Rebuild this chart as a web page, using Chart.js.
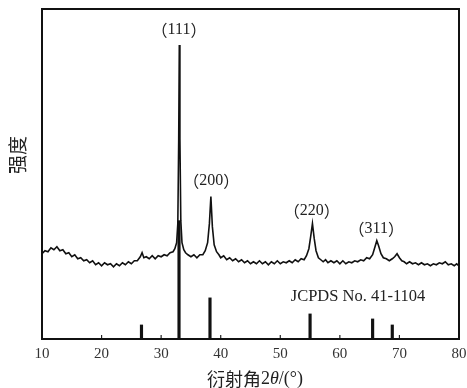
<!DOCTYPE html>
<html>
<head>
<meta charset="utf-8">
<script src="https://cdn.jsdelivr.net/npm/chart.js@4.4.1/dist/chart.umd.min.js"></script>
<style>
  html, body { margin: 0; padding: 0; background: #fff; }
  #box { width: 467px; height: 388px; }
</style>
</head>
<body>
<div id="box"><canvas id="graficoXRD"></canvas></div>
<script>
// Dados (intensidade em unidades arbitrárias)
const doisTheta = [
  10.0, 10.5, 11.0, 11.5, 12.0, 12.5, 13.0, 13.5, 14.0, 14.5, 15.0, 15.5, 16.0, 16.5, 17.0, 17.5,
  18.0, 18.5, 19.0, 19.5, 20.0, 20.5, 21.0, 21.5, 22.0, 22.5, 23.0, 23.5, 24.0, 24.5, 25.0, 25.5,
  26.0, 26.5, 26.8, 27.1, 27.5, 28.0, 28.5, 29.0, 29.5, 30.0, 30.5, 31.0, 31.5, 32.0, 32.3, 32.6,
  32.8, 32.95, 33.05, 33.15, 33.3, 33.5, 33.8, 34.1, 34.5, 35.0, 35.5, 36.0, 36.5, 37.0, 37.4, 37.8,
  38.1, 38.35, 38.6, 38.9, 39.3, 39.7, 40.0, 40.5, 41.0, 41.5, 42.0, 42.5, 43.0, 43.5, 44.0, 44.5,
  45.0, 45.5, 46.0, 46.5, 47.0, 47.5, 48.0, 48.5, 49.0, 49.5, 50.0, 50.5, 51.0, 51.5, 52.0, 52.5,
  53.0, 53.5, 54.0, 54.4, 54.8, 55.1, 55.4, 55.7, 56.0, 56.4, 56.8, 57.2, 57.6, 58.0, 58.5, 59.0,
  59.5, 60.0, 60.5, 61.0, 61.5, 62.0, 62.5, 63.0, 63.5, 64.0, 64.5, 65.0, 65.5, 65.9, 66.2, 66.5,
  66.9, 67.3, 67.8, 68.3, 68.8, 69.2, 69.6, 70.0, 70.4, 70.8, 71.2, 71.7, 72.2, 72.7, 73.2, 73.7,
  74.2, 74.7, 75.2, 75.7, 76.2, 76.7, 77.2, 77.7, 78.2, 78.7, 79.2, 79.6, 80.0
];
const intensidade = [
  85, 88, 87, 91, 89, 92, 88, 89, 85, 86, 82, 84, 80, 81, 78, 79,
  76, 78, 74, 76, 73, 76, 74, 75, 72, 75, 73, 76, 74, 77, 75, 78,
  78, 82, 86, 81, 82, 80, 83, 80, 83, 82, 84, 83, 86, 87, 90, 96,
  115, 200, 293, 200, 118, 96, 89, 86, 84, 82, 84, 81, 84, 84, 88, 96,
  115, 142, 112, 94, 87, 84, 81, 83, 79, 81, 78, 80, 77, 79, 76, 78,
  75, 77, 75, 78, 75, 77, 74, 77, 75, 78, 75, 77, 76, 78, 76, 79,
  77, 80, 79, 83, 90, 102, 115, 100, 88, 81, 79, 77, 79, 76, 78, 76,
  78, 75, 78, 75, 77, 76, 78, 77, 79, 78, 81, 80, 84, 92, 98, 93,
  85, 81, 80, 78, 80, 82, 85, 81, 78, 77, 75, 77, 75, 76, 74, 76,
  74, 75, 73, 75, 74, 76, 75, 77, 74, 75, 73, 75, 73
];

// Linhas do padrão JCPDS No. 41-1104
const posicoesPadrao = [26.7, 33.0, 38.2, 55.0, 65.5, 68.8];
const intensPadrao = [14, 118, 41, 25, 20, 14];

const ticksX = [10, 20, 30, 40, 50, 60, 70, 80];

const rotulosPicos = [
  { texto: "111", x: 33.0, y: 308 },
  { texto: "200", x: 38.4, y: 158 },
  { texto: "220", x: 55.3, y: 128 },
  { texto: "311", x: 66.1, y: 110 }
];

const serif = "'Liberation Serif', 'DejaVu Serif', serif";
const cjk = "'Noto Sans CJK SC', sans-serif";

// desenha texto misturando fontes, centrado em cx
function textoMisto(ctx, partes, cx, cy) {
  let total = 0;
  partes.forEach(p => { ctx.font = p.f; total += ctx.measureText(p.t).width; });
  let x = cx - total / 2;
  ctx.textAlign = "left";
  partes.forEach(p => {
    ctx.font = p.f;
    ctx.fillText(p.t, x, cy);
    x += ctx.measureText(p.t).width;
  });
}

const pluginMoldura = {
  id: "moldura",
  afterDatasetsDraw(chart) {
    const { ctx, chartArea: a, scales } = chart;
    ctx.save();
    // ticks internos no eixo x
    ctx.strokeStyle = "#222";
    ctx.lineWidth = 1.2;
    ticksX.forEach(v => {
      const px = scales.x.getPixelForValue(v);
      ctx.beginPath();
      ctx.moveTo(px, a.bottom);
      ctx.lineTo(px, a.bottom - 4);
      ctx.stroke();
    });
    // moldura
    ctx.strokeStyle = "#111";
    ctx.lineWidth = 2;
    ctx.strokeRect(a.left, a.top, a.right - a.left, a.bottom - a.top);

    // rótulos dos picos
    ctx.fillStyle = "#222";
    ctx.textBaseline = "middle";
    rotulosPicos.forEach(r => {
      textoMisto(ctx, [
        { t: "（", f: "16px " + cjk },
        { t: r.texto, f: "16px " + serif },
        { t: "）", f: "16px " + cjk }
      ], scales.x.getPixelForValue(r.x), scales.y.getPixelForValue(r.y));
    });
    ctx.font = "16.5px " + serif;
    ctx.textAlign = "center";
    ctx.fillText("JCPDS No. 41-1104", scales.x.getPixelForValue(63.05), scales.y.getPixelForValue(42));

    // título eixo y
    ctx.save();
    ctx.translate(18, 155);
    ctx.rotate(-Math.PI / 2);
    ctx.font = "19px " + cjk;
    ctx.textAlign = "center";
    ctx.fillText("强度", 0, 0);
    ctx.restore();

    // título eixo x
    textoMisto(ctx, [
      { t: "衍射角", f: "18px " + cjk },
      { t: "2", f: "18px " + serif },
      { t: "θ", f: "italic 18px " + serif },
      { t: "/(°)", f: "18px " + serif }
    ], 255, 379);
    ctx.restore();
  }
};

document.addEventListener("DOMContentLoaded", () => {
  const pontos = doisTheta.map((t, i) => ({ x: t, y: intensidade[i] }));
  const barras = posicoesPadrao.map((t, i) => ({ x: t, y: intensPadrao[i] }));

  new Chart(document.getElementById("graficoXRD"), {
    data: {
      datasets: [
        {
          type: "bar",
          data: barras,
          backgroundColor: "#111",
          barThickness: 2.5,
          order: 2
        },
        {
          type: "line",
          data: pontos,
          borderColor: "#111",
          borderWidth: 1.6,
          pointRadius: 0,
          tension: 0,
          order: 1
        }
      ]
    },
    options: {
      responsive: true,
      maintainAspectRatio: false,
      animation: false,
      layout: { padding: { left: 42, right: 8, top: 9, bottom: 19 } },
      plugins: { legend: { display: false }, tooltip: { enabled: false } },
      scales: {
        x: {
          type: "linear",
          min: 10,
          max: 80,
          offset: false,
          afterBuildTicks: s => { s.ticks = ticksX.map(v => ({ value: v })); },
          afterFit: s => { s.paddingLeft = 0; s.paddingRight = 0; },
          ticks: { color: "#333", font: { family: serif, size: 15 }, padding: 6, maxRotation: 0 },
          grid: { display: false, drawTicks: false, offset: false },
          border: { display: false }
        },
        y: {
          display: false,
          min: 0,
          max: 329
        }
      }
    },
    plugins: [pluginMoldura]
  });
});
</script>
</body>
</html>
